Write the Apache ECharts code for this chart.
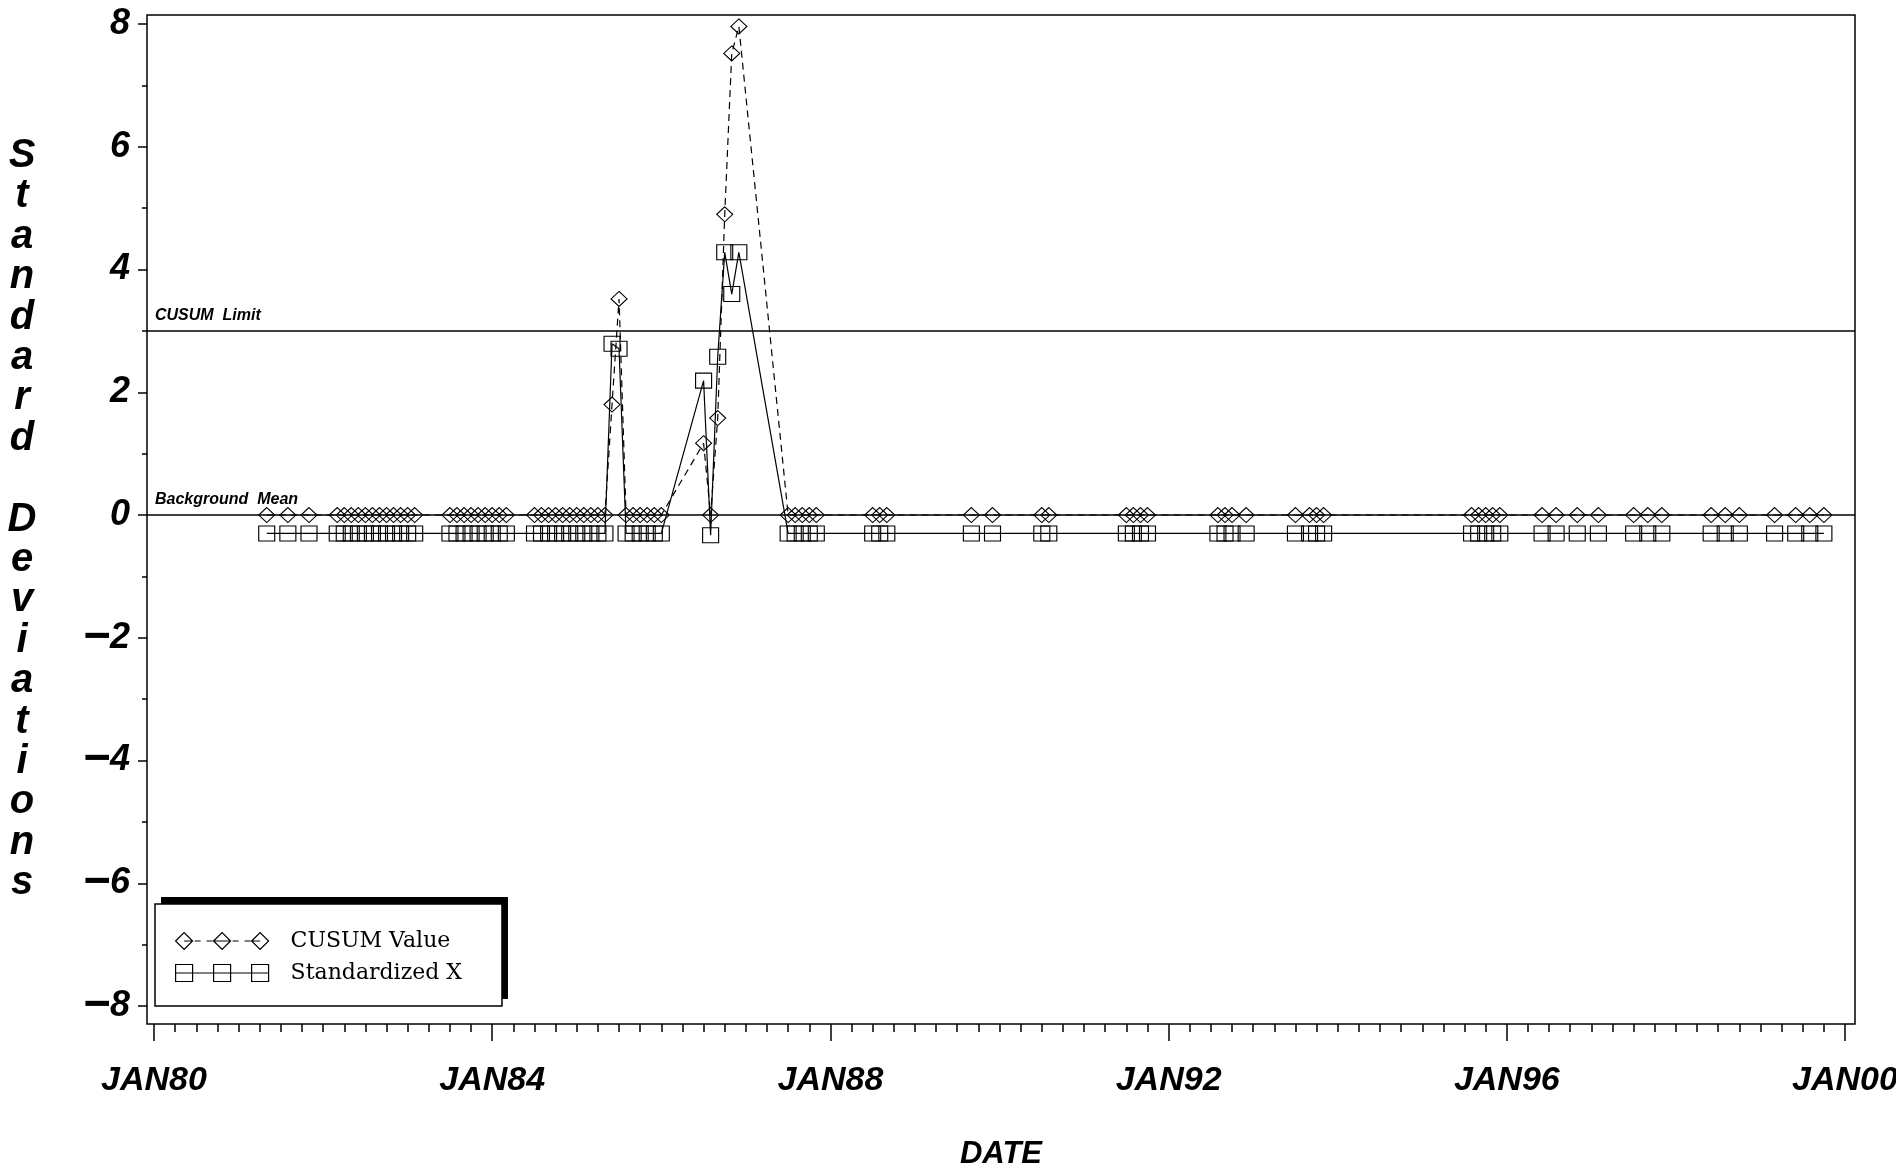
<!DOCTYPE html>
<html><head><meta charset="utf-8">
<script src="https://cdn.jsdelivr.net/npm/echarts@6/dist/echarts.min.js"></script>
<style>html,body{margin:0;padding:0;background:#fff}#c{width:1896px;height:1173px}</style>
</head><body><div id="c"></div>
<script>
// Dates as decimal years (month index / 12)
const dates = [
  1981.333, 1981.583, 1981.833,
  1982.167, 1982.250, 1982.333, 1982.417, 1982.500, 1982.583, 1982.667, 1982.750, 1982.833, 1982.917, 1983.000, 1983.083,
  1983.500, 1983.583, 1983.667, 1983.750, 1983.833, 1983.917, 1984.000, 1984.083, 1984.167,
  1984.500, 1984.583, 1984.667, 1984.750, 1984.833, 1984.917, 1985.000, 1985.083, 1985.167, 1985.250, 1985.333,
  1985.417, 1985.500,
  1985.583, 1985.667, 1985.750, 1985.833, 1985.917, 1986.000,
  1986.500, 1986.583, 1986.667, 1986.750, 1986.833, 1986.917,
  1987.500, 1987.583, 1987.667, 1987.750, 1987.833,
  1988.500, 1988.583, 1988.667,
  1989.667, 1989.917,
  1990.500, 1990.583,
  1991.500, 1991.583, 1991.667, 1991.750,
  1992.583, 1992.667, 1992.750, 1992.917,
  1993.500, 1993.667, 1993.750, 1993.833,
  1995.583, 1995.667, 1995.750, 1995.833, 1995.917,
  1996.417, 1996.583, 1996.833, 1997.083,
  1997.500, 1997.667, 1997.833,
  1998.417, 1998.583, 1998.750,
  1999.167, 1999.417, 1999.583, 1999.750
];
const cusum = [
  0, 0, 0,
  0, 0, 0, 0, 0, 0, 0, 0, 0, 0, 0, 0,
  0, 0, 0, 0, 0, 0, 0, 0, 0,
  0, 0, 0, 0, 0, 0, 0, 0, 0, 0, 0,
  1.80, 3.52,
  0, 0, 0, 0, 0, 0,
  1.17, 0, 1.58, 4.90, 7.52, 7.96,
  0, 0, 0, 0, 0,
  0, 0, 0,
  0, 0,
  0, 0,
  0, 0, 0, 0,
  0, 0, 0, 0,
  0, 0, 0, 0,
  0, 0, 0, 0, 0,
  0, 0, 0, 0,
  0, 0, 0,
  0, 0, 0,
  0, 0, 0, 0
];
const stdX = [
  -0.30, -0.30, -0.30,
  -0.30, -0.30, -0.30, -0.30, -0.30, -0.30, -0.30, -0.30, -0.30, -0.30, -0.30, -0.30,
  -0.30, -0.30, -0.30, -0.30, -0.30, -0.30, -0.30, -0.30, -0.30,
  -0.30, -0.30, -0.30, -0.30, -0.30, -0.30, -0.30, -0.30, -0.30, -0.30, -0.30,
  2.79, 2.71,
  -0.30, -0.30, -0.30, -0.30, -0.30, -0.30,
  2.19, -0.33, 2.58, 4.28, 3.60, 4.28,
  -0.30, -0.30, -0.30, -0.30, -0.30,
  -0.30, -0.30, -0.30,
  -0.30, -0.30,
  -0.30, -0.30,
  -0.30, -0.30, -0.30, -0.30,
  -0.30, -0.30, -0.30, -0.30,
  -0.30, -0.30, -0.30, -0.30,
  -0.30, -0.30, -0.30, -0.30, -0.30,
  -0.30, -0.30, -0.30, -0.30,
  -0.30, -0.30, -0.30,
  -0.30, -0.30, -0.30,
  -0.30, -0.30, -0.30, -0.30
];
const seriesNames = ['CUSUM Value', 'Standardized X'];
const xMajorTicks = [1980, 1984, 1988, 1992, 1996, 2000];
const xTickLabels = ['JAN80', 'JAN84', 'JAN88', 'JAN92', 'JAN96', 'JAN00'];
const yMajorTicks = [-8, -6, -4, -2, 0, 2, 4, 6, 8];
const yTickLabels = ['\u22128', '\u22126', '\u22124', '\u22122', '0', '2', '4', '6', '8'];
const yMinorTicks = [-7, -5, -3, -1, 1, 3, 5, 7];
const refValues = [3, 0];
const refLabels = ['CUSUM  Limit', 'Background  Mean'];
const xTitle = 'DATE';
const yTitle = 'Standard Deviations';

const xMinorTicks = [];
for (let q = 0; q <= 80; q++) { if (q % 16 !== 0) xMinorTicks.push(1980 + q / 4); }

const X_MIN = 1979.917, X_MAX = 2000.118;
const Y_MIN = -8.293, Y_MAX = 8.147;
const HEAVY = "'Liberation Sans', Arial, sans-serif";
const near = (arr, v) => arr.findIndex(a => Math.abs(a - v) < 1e-6);
const boldItalic = {color: '#000', fontFamily: HEAVY, fontStyle: 'italic', fontWeight: 'bold'};

const diamondIcon = 'path://M0 8.5L8.5 0L17 8.5L8.5 17Z M8.5 8.5H17 M19 8.5H25 M31 8.5H37 M38 8.5L46.5 0L55 8.5L46.5 17Z M38 8.5H55 M57 8.5H63 M69 8.5H75 M76 8.5L84.5 0L93 8.5L84.5 17Z M76 8.5H84.5';
const squareIcon = 'path://M0 0H17V17H0Z M38 0H55V17H38Z M76 0H93V17H76Z M0 8.5H93';

function legendCfg(isShadow) {
  const clear = 'rgba(0,0,0,0)';
  const stroke = isShadow ? clear : '#000';
  return {
    orient: 'vertical', left: isShadow ? 161 : 155, top: isShadow ? 897 : 904, padding: [26, 40, 22, 20],
    itemWidth: 93, itemHeight: 17, itemGap: 10, symbolKeepAspect: false,
    backgroundColor: isShadow ? '#000' : '#fff', borderColor: '#000', borderWidth: isShadow ? 0 : 1.5,
    z: isShadow ? 3 : 5, selectedMode: false,
    textStyle: {color: isShadow ? clear : '#000', fontFamily: "'DejaVu Serif', serif", fontSize: 22, padding: [0, 0, 0, 17]},
    data: [
      {name: seriesNames[0], icon: diamondIcon, itemStyle: {color: clear, borderColor: stroke, borderWidth: 1.2}},
      {name: seriesNames[1], icon: squareIcon, itemStyle: {color: clear, borderColor: stroke, borderWidth: 1.2}}
    ]
  };
}

const chart = echarts.init(document.getElementById('c'), null, {renderer: 'canvas'});
const tickLine = {color: '#000', width: 1.5};
chart.setOption({
  backgroundColor: '#fff',
  animation: false,
  grid: {left: 147, right: 41, top: 15, bottom: 149, show: true, borderColor: '#000', borderWidth: 1.5,
         containLabel: false, outerBoundsMode: 'none'},
  xAxis: [
    {type: 'value', min: X_MIN, max: X_MAX, position: 'bottom',
     axisLine: {show: false, onZero: false}, splitLine: {show: false},
     axisTick: {show: true, customValues: xMajorTicks, length: 17, lineStyle: tickLine},
     axisLabel: Object.assign({customValues: xMajorTicks, formatter: v => xTickLabels[near(xMajorTicks, v)] || '',
                 margin: 40, fontSize: 34}, boldItalic),
     name: xTitle, nameLocation: 'middle', nameGap: 115,
     nameTextStyle: Object.assign({fontSize: 31}, boldItalic)},
    {type: 'value', min: X_MIN, max: X_MAX, position: 'bottom',
     axisLine: {show: false, onZero: false}, splitLine: {show: false}, axisLabel: {show: false},
     axisTick: {show: true, customValues: xMinorTicks, length: 8, lineStyle: tickLine}}
  ],
  yAxis: [
    {type: 'value', min: Y_MIN, max: Y_MAX, position: 'left',
     axisLine: {show: false, onZero: false}, splitLine: {show: false},
     axisTick: {show: true, customValues: yMajorTicks, length: 9, lineStyle: tickLine},
     axisLabel: Object.assign({customValues: yMajorTicks,
                 formatter: v => {
                   const s = yTickLabels[near(yMajorTicks, v)] || '';
                   return s.charAt(0) === '\u2212' ? '{m|\u2212}' + s.slice(1) : s;
                 },
                 margin: 17, fontSize: 36,
                 rich: {m: Object.assign({fontSize: 47}, boldItalic)}}, boldItalic),
     name: yTitle.split('').join('\n'), nameLocation: 'middle', nameGap: 125, nameRotate: 0,
     nameTextStyle: Object.assign({fontSize: 40, lineHeight: 40.4, align: 'center', verticalAlign: 'middle',
                                   padding: [0, 0, 11, 0]}, boldItalic)},
    {type: 'value', min: Y_MIN, max: Y_MAX, position: 'left',
     axisLine: {show: false, onZero: false}, splitLine: {show: false}, axisLabel: {show: false},
     axisTick: {show: true, customValues: yMinorTicks, length: 5, lineStyle: tickLine}}
  ],
  legend: [legendCfg(true), legendCfg(false)],
  series: [
    {type: 'line', name: seriesNames[0], xAxisIndex: 0, yAxisIndex: 0,
     data: dates.map((d, i) => [d, cusum[i]]),
     symbol: 'diamond', symbolSize: [16, 15],
     lineStyle: {color: '#000', width: 1.2, type: [7, 5]},
     itemStyle: {color: 'rgba(0,0,0,0)', borderColor: '#000', borderWidth: 1.1},
     emphasis: {disabled: true}, z: 3},
    {type: 'line', name: seriesNames[1], xAxisIndex: 0, yAxisIndex: 0,
     data: dates.map((d, i) => [d, stdX[i]]),
     symbol: 'rect', symbolSize: [16, 15],
     lineStyle: {color: '#000', width: 1.2, type: 'solid'},
     itemStyle: {color: 'rgba(0,0,0,0)', borderColor: '#000', borderWidth: 1.1},
     emphasis: {disabled: true}, z: 3,
     markLine: {silent: true, symbol: ['none', 'none'], animation: false,
       lineStyle: {color: '#000', type: 'solid', width: 1.5},
       label: Object.assign({position: 'insideStartTop', distance: [8, 7], fontSize: 16}, boldItalic),
       data: refValues.map((v, i) => ({yAxis: v, label: {formatter: refLabels[i]}}))}}
  ]
});
</script></body></html>
